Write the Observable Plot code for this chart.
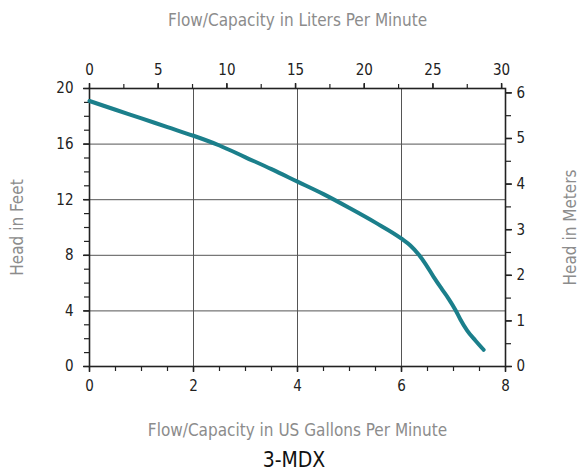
<!DOCTYPE html>
<html>
<head>
<meta charset="utf-8">
<script src="https://cdn.jsdelivr.net/npm/d3@7"></script>
<script src="https://cdn.jsdelivr.net/npm/@observablehq/plot@0.6"></script>
<style>
  html, body { margin: 0; padding: 0; background: #fff; }
  #chart svg { display: block; }
  #title { width: 581px; box-sizing: border-box; padding-left: 7px; text-align: center;
    height: 30px; line-height: 30px; font-family: "Liberation Sans Narrow", "DejaVu Sans Condensed", sans-serif;
    font-size: 21px; color: #111; }
</style>
</head>
<body>
<div id="chart"></div>
<div id="title">3-MDX</div>
<script>
// Pump curve: flow (US gallons per minute) vs head (feet)
const flowGpm = [0, 0.5, 1, 1.5, 2, 2.5, 3, 3.5, 4, 4.5, 5, 5.5, 6, 6.17, 6.33, 6.46, 6.62, 6.78, 6.91, 7.04, 7.13, 7.26, 7.42, 7.58];
const headFt  = [19.1, 18.47, 17.85, 17.22, 16.6, 15.9, 15.05, 14.2, 13.3, 12.4, 11.4, 10.35, 9.2, 8.71, 8.06, 7.39, 6.43, 5.55, 4.85, 4.05, 3.4, 2.6, 1.87, 1.2];

const gpmTicks = [0, 2, 4, 6, 8];
const feetTicks = [0, 4, 8, 12, 16, 20];
const literTicks = [0, 5, 10, 15, 20, 25, 30];
const meterTicks = [0, 1, 2, 3, 4, 5, 6];
const gridGpm = [2, 4, 6];
const gridFeet = [4, 8, 12, 16];

const LITERS_PER_GAL = 3.78541;
const METERS_PER_FOOT = 0.3048;

const points = flowGpm.map((x, i) => ({x, y: headFt[i]}));

const gpmMinor = d3.range(0, 8.001, 0.5);
const feetMinor = d3.range(0, 20.001, 1);
const literMinor = d3.range(0, 30.001, 2.5).map(l => l / LITERS_PER_GAL);
const meterMinor = d3.range(0, 6.001, 0.5).map(m => m / METERS_PER_FOOT);

const axisColor = "#222";
const labelColor = "#8c8c8c";

const chart = Plot.plot({
  width: 581,
  height: 445,
  marginTop: 88,
  marginBottom: 79,
  marginLeft: 89,
  marginRight: 76,
  style: {fontFamily: '"Liberation Sans Narrow", "DejaVu Sans Condensed", sans-serif', fontSize: "15px", color: axisColor, background: "#fff"},
  x: {domain: [0, 8]},
  y: {domain: [0, 20]},
  marks: [
    Plot.gridX(gridGpm, {stroke: "#555", strokeOpacity: 1, strokeWidth: 1}),
    Plot.gridY(gridFeet, {stroke: "#555", strokeOpacity: 1, strokeWidth: 1}),
    // bottom axis (gpm)
    Plot.axisX(gpmMinor, {anchor: "bottom", tickSize: 5, text: null, label: null, strokeWidth: 1.2}),
    Plot.axisX(gpmTicks, {anchor: "bottom", tickSize: 6, tickPadding: 8, label: null, strokeWidth: 1.5}),
    // top axis (liters)
    Plot.axisX(literMinor, {anchor: "top", tickSize: 5, text: null, label: null, strokeWidth: 1.2}),
    Plot.axisX(literTicks.map(l => l / LITERS_PER_GAL), {anchor: "top", tickSize: 6, tickPadding: 8, label: null, strokeWidth: 1.5,
      tickFormat: d => String(Math.round(d * LITERS_PER_GAL))}),
    // left axis (feet)
    Plot.axisY(feetMinor, {anchor: "left", tickSize: 5, text: null, label: null, strokeWidth: 1.2}),
    Plot.axisY(feetTicks, {anchor: "left", tickSize: 6, tickPadding: 10, label: null, strokeWidth: 1.5}),
    // right axis (meters)
    Plot.axisY(meterMinor, {anchor: "right", tickSize: 5, text: null, label: null, strokeWidth: 1.2}),
    Plot.axisY(meterTicks.map(m => m / METERS_PER_FOOT), {anchor: "right", tickSize: 6, tickPadding: 5, label: null, strokeWidth: 1.5,
      tickFormat: d => String(Math.round(d * METERS_PER_FOOT))}),
    Plot.frame({stroke: axisColor, strokeWidth: 1.6}),
    Plot.line(points, {x: "x", y: "y", stroke: "#1b7f8b", strokeWidth: 4, curve: "monotone-x"}),
    // axis titles
    Plot.text(["Flow/Capacity in Liters Per Minute"], {frameAnchor: "top", dy: -68, fill: labelColor, fontSize: 17, textAnchor: "middle", lineAnchor: "middle"}),
    Plot.text(["Flow/Capacity in US Gallons Per Minute"], {frameAnchor: "bottom", dy: 64, fill: labelColor, fontSize: 17, textAnchor: "middle", lineAnchor: "middle"}),
    Plot.text(["Head in Feet"], {frameAnchor: "left", dx: -72, rotate: -90, fill: labelColor, fontSize: 17, textAnchor: "middle", lineAnchor: "middle"}),
    Plot.text(["Head in Meters"], {frameAnchor: "right", dx: 65, rotate: -90, fill: labelColor, fontSize: 17, textAnchor: "middle", lineAnchor: "middle"})
  ]
});
document.getElementById("chart").appendChild(chart);
</script>
</body>
</html>
